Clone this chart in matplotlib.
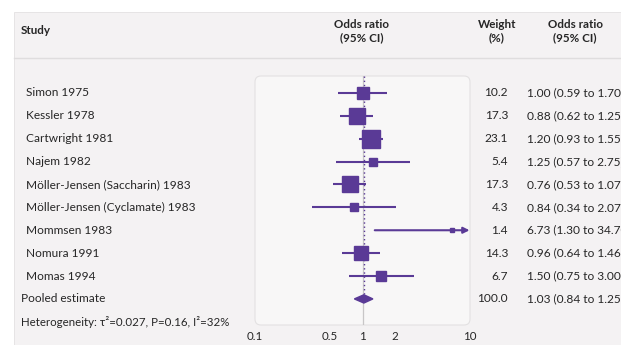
import matplotlib
matplotlib.use("Agg")
import matplotlib.pyplot as plt
import numpy as np
from matplotlib.lines import Line2D
from matplotlib.patches import FancyBboxPatch, Polygon, Rectangle
from matplotlib.ticker import NullLocator
from matplotlib.transforms import blended_transform_factory

# data
studies = [
    "Simon 1975",
    "Kessler 1978",
    "Cartwright 1981",
    "Najem 1982",
    "Möller-Jensen (Saccharin) 1983",
    "Möller-Jensen (Cyclamate) 1983",
    "Mommsen 1983",
    "Nomura 1991",
    "Momas 1994",
]
weights = [10.2, 17.3, 23.1, 5.4, 17.3, 4.3, 1.4, 14.3, 6.7]
odds_ratios = [1.00, 0.88, 1.20, 1.25, 0.76, 0.84, 6.73, 0.96, 1.50]
ci_low = [0.59, 0.62, 0.93, 0.57, 0.53, 0.34, 1.30, 0.64, 0.75]
ci_high = [1.70, 1.25, 1.55, 2.75, 1.07, 2.07, 34.70, 1.46, 3.00]

pooled_label = "Pooled estimate"
pooled_weight = 100.0
pooled_or = 1.03
pooled_low = 0.84
pooled_high = 1.25

heterogeneity = "Heterogeneity: τ²=0.027, P=0.16, I²=32%"

x_ticks = [0.1, 0.5, 1, 2, 10]
x_tick_labels = ["0.1", "0.5", "1", "2", "10"]
x_limits = (0.1, 10)

PURPLE = "#5a3a96"
TEXT = "#262626"
CARD = "#f4f2f3"
PANEL = "#f8f7f7"
EDGE = "#e3e1e2"

W, H = 621, 345
plt.rcParams["font.family"] = ["Lato", "DejaVu Sans"]


def fx(px):
    return px / W


def fy(py):
    return 1 - py / H


def main():
    fig = plt.figure(figsize=(W / 100, H / 100), dpi=100)
    fig.patch.set_facecolor("white")

    # outer card + header separator (kept below the axes)
    fig.add_artist(Rectangle((fx(14), -0.01), 1.01 - fx(14), fy(12) + 0.01, transform=fig.transFigure,
                             facecolor=CARD, edgecolor=EDGE, lw=0.6, zorder=-3))
    fig.add_artist(Line2D([fx(14), 1], [fy(58), fy(58)], transform=fig.transFigure,
                          color="#dfdddE", lw=1.0, zorder=-2))

    # inner plot panel (rounded)
    fig.add_artist(FancyBboxPatch((2.55, (H - 325) / 100), 2.15, 2.49,
                                  boxstyle="round,pad=0,rounding_size=0.06",
                                  transform=fig.dpi_scale_trans,
                                  facecolor=PANEL, edgecolor=EDGE, lw=0.8, zorder=-1))

    ax = fig.add_axes([fx(255), fy(325), fx(470) - fx(255), (325 - 76) / H])
    ax.patch.set_visible(False)
    ax.set_xscale("log")
    ax.set_xlim(*x_limits)
    ax.set_ylim(10.14, -0.74)
    for s in ax.spines.values():
        s.set_visible(False)
    ax.set_yticks([])
    ax.set_xticks(x_ticks)
    ax.set_xticklabels(x_tick_labels)
    ax.xaxis.set_minor_locator(NullLocator())
    ax.tick_params(axis="x", length=0, pad=4, labelsize=8.3, labelcolor=TEXT)

    n = len(studies)
    rows = np.arange(n)
    pooled_row = n
    het_row = n + 1

    # reference lines
    ax.axvline(1, color="#c8c6c7", lw=0.9, zorder=1)
    ax.plot([pooled_or, pooled_or], [-0.74, pooled_row - 0.2], color=PURPLE,
            lw=1.0, ls=(0, (1, 2)), zorder=2)

    # study estimates
    for i in rows:
        lo, hi, est = ci_low[i], ci_high[i], odds_ratios[i]
        if hi > x_limits[1]:
            ax.annotate("", xy=(x_limits[1] * 0.99, i), xytext=(lo, i),
                        arrowprops=dict(arrowstyle="-|>", color=PURPLE, lw=1.5,
                                        mutation_scale=9, shrinkA=0, shrinkB=0),
                        zorder=3)
        else:
            ax.plot([lo, hi], [i, i], color=PURPLE, lw=1.5, solid_capstyle="butt", zorder=3)
        ax.plot(est, i, marker="s", ms=2.7 * np.sqrt(weights[i]), color=PURPLE,
                mec=PURPLE, zorder=4)

    # pooled diamond
    h = 0.18
    ax.add_patch(Polygon([(pooled_low, pooled_row), (pooled_or, pooled_row - h),
                          (pooled_high, pooled_row), (pooled_or, pooled_row + h)],
                         closed=True, facecolor=PURPLE, edgecolor=PURPLE, zorder=4))

    # table text
    tr = blended_transform_factory(fig.transFigure, ax.transData)
    fs = 8.6
    for i, name in enumerate(studies):
        ax.text(fx(26), i, name, transform=tr, ha="left", va="center", fontsize=fs, color=TEXT)
        ax.text(fx(508), i, f"{weights[i]:.1f}", transform=tr, ha="right", va="center",
                fontsize=fs, color=TEXT)
        ax.text(fx(527), i, f"{odds_ratios[i]:.2f} ({ci_low[i]:.2f} to {ci_high[i]:.2f})",
                transform=tr, ha="left", va="center", fontsize=fs, color=TEXT)

    ax.text(fx(21), pooled_row, pooled_label, transform=tr, ha="left", va="center",
            fontsize=fs, color=TEXT)
    ax.text(fx(508), pooled_row, f"{pooled_weight:.1f}", transform=tr, ha="right",
            va="center", fontsize=fs, color=TEXT)
    ax.text(fx(527), pooled_row, f"{pooled_or:.2f} ({pooled_low:.2f} to {pooled_high:.2f})",
            transform=tr, ha="left", va="center", fontsize=fs, color=TEXT)
    ax.text(fx(21), het_row, heterogeneity, transform=tr, ha="left", va="center",
            fontsize=fs - 0.3, color=TEXT)

    # headers
    hdr = dict(transform=fig.transFigure, fontsize=8.4, color=TEXT, fontweight="bold",
               va="center", linespacing=1.2)
    fig.text(fx(21), fy(30), "Study", ha="left", **hdr)
    fig.text(fx(362), fy(31), "Odds ratio\n(95% CI)", ha="center", **hdr)
    fig.text(fx(497), fy(31), "Weight\n(%)", ha="center", **hdr)
    fig.text(fx(575), fy(31), "Odds ratio\n(95% CI)", ha="center", **hdr)

    fig.savefig("out.png", dpi=100)


if __name__ == "__main__":
    main()
